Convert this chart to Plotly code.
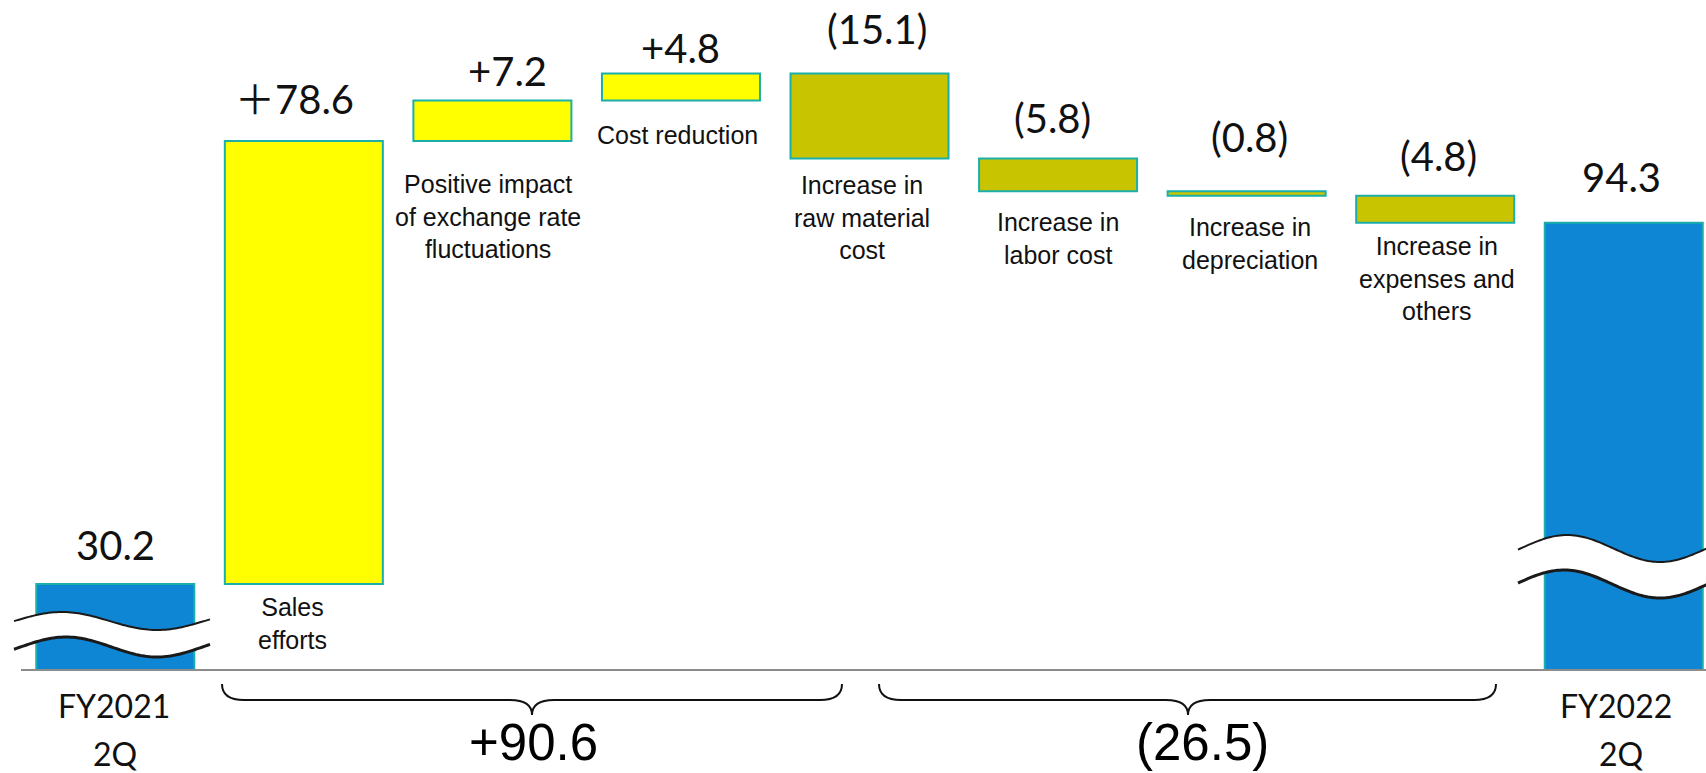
import numpy as np
import plotly.graph_objects as go

# ---------------- data ----------------
categories = ["FY2021 2Q", "Sales efforts", "Positive impact of exchange rate fluctuations",
              "Cost reduction", "Increase in raw material cost", "Increase in labor cost",
              "Increase in depreciation", "Increase in expenses and others", "FY2022 2Q"]
measures = ["absolute", "relative", "relative", "relative", "relative",
            "relative", "relative", "relative", "total"]
values = [30.2, 78.6, 7.2, 4.8, -15.1, -5.8, -0.8, -4.8, 0]
value_labels = ["30.2", "＋78.6", "+7.2", "+4.8", "(15.1)", "(5.8)", "(0.8)", "(4.8)", "94.3"]
factor_labels = ["Sales<br>efforts", "Positive impact<br>of exchange rate<br>fluctuations",
                 "Cost reduction", "Increase in<br>raw material<br>cost",
                 "Increase in<br>labor cost", "Increase in<br>depreciation",
                 "Increase in<br>expenses and<br>others"]
period_labels = [["FY2021", "2Q"], ["FY2022", "2Q"]]
group_totals = ["+90.6", "(26.5)"]

# ---------------- layout helpers (pixel -> paper) ----------------
W, H = 1706, 773
ML, MR, MT, MB = 21, 0, 0, 104
PW, PH = W - ML - MR, H - MT - MB


def px(x):
    return (x - ML) / PW


def py(y):
    return (MT + PH - y) / PH


x_pos = list(range(len(categories)))

YELLOW = "#FFFF00"
OLIVE = "#C8C400"
BLUE = "#0E86D4"
TEAL = "#1AAFAA"

fig = go.Figure(go.Waterfall(
    x=x_pos, y=values, measure=measures, width=0.838,
    increasing=dict(marker=dict(color=YELLOW, line=dict(color=TEAL, width=2))),
    decreasing=dict(marker=dict(color=OLIVE, line=dict(color=TEAL, width=2))),
    totals=dict(marker=dict(color=BLUE, line=dict(color=TEAL, width=2))),
    connector=dict(visible=False),
    hoverinfo="skip", showlegend=False,
))

fig.update_layout(
    width=W, height=H,
    margin=dict(l=ML, r=MR, t=MT, b=MB, pad=0),
    paper_bgcolor="white", plot_bgcolor="white",
    xaxis=dict(range=[-0.5, -0.5 + PW / 188.56], showgrid=False, zeroline=False,
               showticklabels=False, ticks="", showline=True, linecolor="#8c8c8c",
               linewidth=2, fixedrange=True),
    yaxis=dict(range=[15.12, 133.82], visible=False, fixedrange=True),
    showlegend=False,
)

annotations = []
VAL_FONT = dict(family="Lato, 'Noto Sans CJK JP', sans-serif", size=40, color="#111111")
CAT_FONT = dict(family="'Liberation Sans', Arial, sans-serif", size=25, color="#111111")
PER_FONT = dict(family="Lato, sans-serif", size=32, color="#111111")
TOT_FONT = dict(family="'Liberation Sans', Arial, sans-serif", size=51, color="#000000")

# value labels (pixel centers)
val_pos = [(115, 545), (294, 99), (507, 71), (680, 48), (877, 29),
           (1052, 118), (1249, 137), (1438, 156), (1621, 177)]
for txt, (x, y) in zip(value_labels, val_pos):
    annotations.append(dict(text=txt, x=px(x), y=py(y), xref="paper", yref="paper",
                            xanchor="center", yanchor="middle", showarrow=False, font=VAL_FONT))

# factor labels
cat_pos = [(292, 623), (488, 216), (677, 135), (862, 218), (1058, 238), (1250, 243), (1437, 278)]
for txt, (x, y) in zip(factor_labels, cat_pos):
    annotations.append(dict(text=txt, x=px(x), y=py(y), xref="paper", yref="paper",
                            xanchor="center", yanchor="middle", showarrow=False, font=CAT_FONT,
                            align="center"))

# period labels below axis
per_pos = [(114, 115), (1616, 1621)]
for (l1, l2), (xa, xb) in zip(period_labels, per_pos):
    annotations.append(dict(text=l1, x=px(xa), y=py(705), xref="paper", yref="paper",
                            xanchor="center", yanchor="middle", showarrow=False, font=PER_FONT))
    annotations.append(dict(text=l2, x=px(xb), y=py(753), xref="paper", yref="paper",
                            xanchor="center", yanchor="middle", showarrow=False, font=PER_FONT))

# group totals under braces
tot_pos = [(533, 742), (1202, 742)]
for txt, (x, y) in zip(group_totals, tot_pos):
    annotations.append(dict(text=txt, x=px(x), y=py(y), xref="paper", yref="paper",
                            xanchor="center", yanchor="middle", showarrow=False, font=TOT_FONT))

fig.update_layout(annotations=annotations)

shapes = []


def wave_pts(x0, x1, xpeak, period, yc, amp, n=80):
    xs = np.linspace(x0, x1, n)
    ys = yc - amp * np.cos(2 * np.pi * (xs - xpeak) / period)
    return list(zip(xs, ys))


def path_from(pts, close=False):
    s = "M " + " L ".join(f"{px(x):.5f},{py(y):.5f}" for x, y in pts)
    return s + (" Z" if close else "")


def add_wave(x0, x1, top, bot):
    tp = wave_pts(x0, x1, *top)
    bp = wave_pts(x0, x1, *bot)
    shapes.append(dict(type="path", path=path_from(tp + bp[::-1], close=True),
                       xref="paper", yref="paper", fillcolor="white", line=dict(width=0)))
    shapes.append(dict(type="path", path=path_from(tp), xref="paper", yref="paper",
                       line=dict(color="#1a1a1a", width=2)))
    shapes.append(dict(type="path", path=path_from(bp), xref="paper", yref="paper",
                       line=dict(color="#1a1a1a", width=3)))


# break marks (xpeak, period, yc, amp)
add_wave(14, 210, (62, 190, 621, 9), (66, 182, 647, 10))
add_wave(1518, 1712, (1567, 186, 548.5, 13.5), (1564, 192, 584, 14))


def brace(x0, x1, xc, ytop=684, yl=700, ytip=715, r=22):
    p = (f"M {px(x0)},{py(ytop)} Q {px(x0)},{py(yl)} {px(x0 + r)},{py(yl)} "
         f"L {px(xc - r)},{py(yl)} Q {px(xc)},{py(yl)} {px(xc)},{py(ytip)} "
         f"Q {px(xc)},{py(yl)} {px(xc + r)},{py(yl)} "
         f"L {px(x1 - r)},{py(yl)} Q {px(x1)},{py(yl)} {px(x1)},{py(ytop)}")
    shapes.append(dict(type="path", path=p, xref="paper", yref="paper",
                       line=dict(color="#111111", width=2)))


brace(222, 842, 532)
brace(879, 1496, 1188)

fig.update_layout(shapes=shapes)

fig.write_html("out.html")
